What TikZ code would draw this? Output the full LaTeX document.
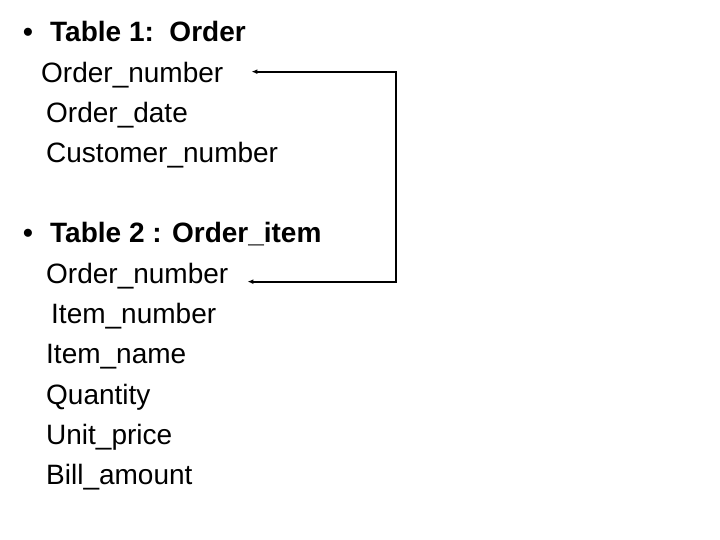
\documentclass[tikz,border=0pt]{standalone}
\usepackage{fontspec}
\setmainfont{Liberation Sans}
\usetikzlibrary{arrows.meta,positioning}
\definecolor{lineblack}{RGB}{0,0,0}

\begin{document}
\begin{tikzpicture}[
  x=1pt, y=1pt,
  head/.style={anchor=base west, inner sep=0pt, font=\fontsize{28}{34}\selectfont\bfseries},
  field/.style={anchor=base west, inner sep=0pt, font=\fontsize{28}{34}\selectfont},
  fk/.style={{Latex[length=6pt,width=5pt]}-{Latex[length=6pt,width=5pt]}, line width=2pt, draw=lineblack}
]
\useasboundingbox (0,0) rectangle (720,-540);

% table 1
\node[head] (tabA) at (23,-42) {\makebox[27pt][l]{\textbullet}Table 1:\ \ Order};
\node[field] (ordA) at (41,-83) {Order\_number};
\node[field] (date) at (46,-123) {Order\_date};
\node[field] (cust) at (46,-163) {Customer\_number};

% table 2
\node[head] (tabB) at (23,-243) {\makebox[27pt][l]{\textbullet}Table 2 : Order\_item};
\node[field] (ordB) at (46,-283) {Order\_number};
\node[field] (itnum) at (51,-323) {Item\_number};
\node[field] (itname) at (46,-363) {Item\_name};
\node[field] (qty) at (46,-404) {Quantity};
\node[field] (price) at (46,-444) {Unit\_price};
\node[field] (bill) at (46,-484) {Bill\_amount};

% foreign key link
\coordinate (rail) at (396,-176);
\draw[fk] ([xshift=28pt,yshift=4pt]ordA.east) -- ([yshift=4pt]ordA.east -| rail)
  -- ([yshift=-6pt]ordB.east -| rail) -- ([xshift=19pt,yshift=-6pt]ordB.east);
\end{tikzpicture}
\end{document}
